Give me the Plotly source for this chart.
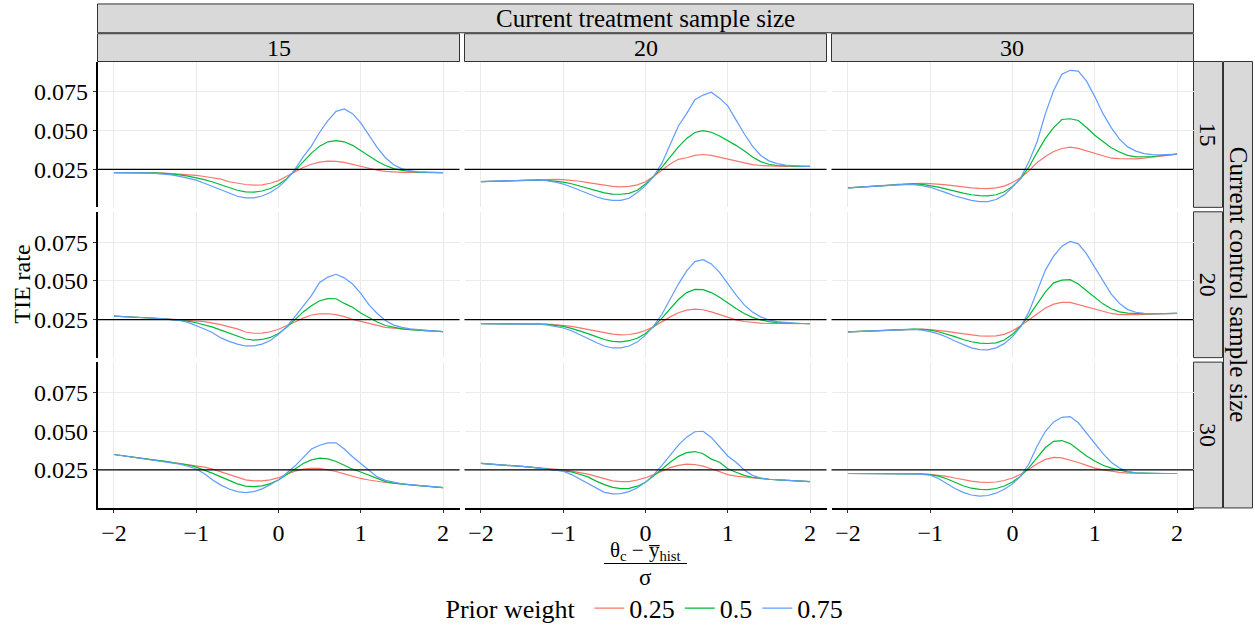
import plotly.graph_objects as go

# ---------------- data ----------------
x_std_diff = [round(-2 + 0.1 * i, 1) for i in range(41)]
treatment_sizes = ["15", "20", "30"]
control_sizes = ["15", "20", "30"]
prior_weights = ["0.25", "0.5", "0.75"]
y_ticks = [0.025, 0.050, 0.075]
y_ticktext = ["0.025", "0.050", "0.075"]
x_ticks = [-2, -1, 0, 1, 2]

# control 15 / treatment 15
c15_t15_w025 = [.0229,.0229,.0229,.0229,.0229,.0228,.0226,.0223,.0220,.0216,.0211,.0204,.0196,.0187,.0170,.0160,.0152,.0148,.0150,.0160,.0177,.0205,.0235,.0262,.0283,.0297,.0303,.0302,.0295,.0282,.0268,.0255,.0244,.0237,.0233,.0231,.0230,.0229,.0229,.0229,.0229]
c15_t15_w050 = [.0229,.0229,.0229,.0229,.0229,.0227,.0224,.0220,.0214,.0206,.0197,.0184,.0168,.0150,.0131,.0115,.0105,.0103,.0110,.0126,.0152,.0190,.0242,.0300,.0355,.0400,.0428,.0436,.0428,.0405,.0372,.0336,.0302,.0275,.0255,.0243,.0236,.0232,.0230,.0229,.0229]
c15_t15_w075 = [.0229,.0229,.0229,.0228,.0227,.0224,.0220,.0214,.0205,.0193,.0180,.0160,.0138,.0115,.0093,.0076,.0066,.0066,.0078,.0100,.0135,.0185,.0250,.0330,.0400,.0490,.0565,.0625,.0640,.0610,.0550,.0470,.0390,.0325,.0280,.0253,.0240,.0234,.0231,.0230,.0229]
# control 15 / treatment 20
c15_t20_w025 = [.0171,.0173,.0175,.0177,.0179,.0181,.0183,.0184,.0185,.0185,.0184,.0180,.0173,.0164,.0155,.0146,.0140,.0137,.0140,.0150,.0170,.0205,.0245,.0285,.0315,.0325,.0340,.0346,.0340,.0328,.0315,.0300,.0288,.0280,.0275,.0272,.0270,.0269,.0269,.0269,.0269]
c15_t20_w050 = [.0171,.0173,.0175,.0177,.0179,.0180,.0181,.0181,.0179,.0175,.0168,.0157,.0143,.0127,.0112,.0098,.0090,.0089,.0095,.0115,.0155,.0205,.0265,.0330,.0395,.0450,.0488,.0500,.0490,.0465,.0437,.0405,.0370,.0330,.0300,.0283,.0275,.0272,.0270,.0269,.0269]
c15_t20_w075 = [.0171,.0173,.0175,.0177,.0179,.0180,.0181,.0180,.0177,.0168,.0155,.0136,.0115,.0092,.0073,.0058,.0049,.0050,.0063,.0100,.0145,.0205,.0290,.0410,.0530,.0610,.0700,.0730,.0748,.0710,.0660,.0570,.0480,.0400,.0340,.0305,.0287,.0278,.0273,.0270,.0269]
# control 15 / treatment 30
c15_t30_w025 = [.0130,.0133,.0137,.0141,.0145,.0149,.0153,.0156,.0158,.0159,.0158,.0155,.0150,.0143,.0136,.0130,.0127,.0126,.0130,.0142,.0165,.0198,.0240,.0295,.0333,.0365,.0385,.0393,.0385,.0370,.0353,.0337,.0322,.0319,.0317,.0318,.0322,.0328,.0335,.0342,.0348]
c15_t30_w050 = [.0130,.0133,.0137,.0141,.0145,.0149,.0152,.0155,.0156,.0153,.0146,.0135,.0122,.0108,.0096,.0086,.0080,.0079,.0086,.0105,.0140,.0190,.0265,.0360,.0450,.0520,.0572,.0577,.0566,.0520,.0470,.0430,.0390,.0362,.0340,.0331,.0330,.0333,.0338,.0343,.0348]
c15_t30_w075 = [.0130,.0133,.0137,.0141,.0145,.0149,.0152,.0153,.0151,.0145,.0134,.0118,.0098,.0078,.0062,.0050,.0042,.0042,.0055,.0085,.0135,.0195,.0300,.0430,.0610,.0760,.0865,.0890,.0885,.0820,.0720,.0610,.0520,.0445,.0395,.0368,.0352,.0345,.0343,.0345,.0348]
# control 20 / treatment 15
c20_t15_w025 = [.0273,.0271,.0268,.0265,.0262,.0259,.0256,.0253,.0250,.0247,.0242,.0237,.0228,.0218,.0203,.0190,.0170,.0162,.0163,.0172,.0188,.0210,.0235,.0260,.0280,.0287,.0288,.0282,.0270,.0252,.0238,.0225,.0210,.0200,.0195,.0190,.0185,.0181,.0178,.0175,.0173]
c20_t15_w050 = [.0273,.0271,.0268,.0265,.0262,.0259,.0255,.0251,.0247,.0240,.0230,.0218,.0202,.0182,.0162,.0140,.0125,.0118,.0122,.0135,.0160,.0200,.0250,.0300,.0340,.0372,.0386,.0385,.0355,.0330,.0293,.0262,.0235,.0212,.0200,.0191,.0186,.0182,.0178,.0175,.0173]
c20_t15_w075 = [.0273,.0271,.0268,.0265,.0262,.0259,.0255,.0250,.0245,.0232,.0212,.0190,.0165,.0132,.0110,.0092,.0080,.0080,.0092,.0115,.0155,.0205,.0270,.0340,.0405,.0490,.0525,.0543,.0520,.0480,.0420,.0345,.0290,.0245,.0215,.0200,.0190,.0185,.0180,.0176,.0173]
# control 20 / treatment 20
c20_t20_w025 = [.0224,.0224,.0224,.0224,.0224,.0224,.0224,.0223,.0221,.0218,.0213,.0206,.0197,.0186,.0175,.0164,.0156,.0152,.0154,.0163,.0180,.0205,.0237,.0268,.0295,.0312,.0318,.0314,.0300,.0282,.0264,.0249,.0238,.0231,.0227,.0225,.0224,.0224,.0224,.0224,.0224]
c20_t20_w050 = [.0224,.0224,.0224,.0224,.0224,.0224,.0223,.0222,.0219,.0214,.0206,.0194,.0178,.0160,.0140,.0122,.0110,.0107,.0114,.0130,.0160,.0205,.0260,.0320,.0380,.0425,.0445,.0444,.0425,.0395,.0358,.0322,.0290,.0265,.0248,.0237,.0231,.0228,.0226,.0225,.0224]
c20_t20_w075 = [.0224,.0224,.0224,.0224,.0224,.0224,.0223,.0221,.0216,.0208,.0196,.0178,.0155,.0128,.0102,.0080,.0067,.0068,.0080,.0105,.0150,.0210,.0285,.0380,.0480,.0565,.0625,.0638,.0610,.0555,.0480,.0410,.0345,.0300,.0268,.0248,.0237,.0231,.0227,.0225,.0224]
# control 20 / treatment 30
c20_t30_w025 = [.0171,.0173,.0176,.0179,.0182,.0185,.0187,.0189,.0190,.0189,.0186,.0181,.0174,.0166,.0158,.0150,.0145,.0143,.0145,.0155,.0178,.0210,.0250,.0290,.0325,.0350,.0362,.0362,.0348,.0332,.0318,.0302,.0290,.0283,.0281,.0282,.0284,.0286,.0288,.0290,.0291]
c20_t30_w050 = [.0171,.0173,.0176,.0179,.0182,.0185,.0187,.0189,.0189,.0187,.0182,.0172,.0158,.0140,.0122,.0107,.0098,.0096,.0100,.0118,.0155,.0210,.0275,.0355,.0430,.0488,.0505,.0508,.0480,.0437,.0395,.0352,.0320,.0300,.0292,.0289,.0288,.0288,.0289,.0290,.0291]
c20_t30_w075 = [.0171,.0173,.0176,.0179,.0182,.0185,.0187,.0188,.0187,.0182,.0173,.0158,.0138,.0112,.0088,.0068,.0056,.0055,.0068,.0095,.0140,.0205,.0300,.0440,.0570,.0660,.0725,.0755,.0740,.0675,.0590,.0500,.0415,.0355,.0315,.0298,.0290,.0288,.0289,.0290,.0291]
# control 30 / treatment 15
c30_t15_w025 = [.0350,.0342,.0335,.0328,.0321,.0314,.0307,.0300,.0292,.0286,.0278,.0268,.0255,.0238,.0218,.0200,.0186,.0180,.0180,.0186,.0200,.0222,.0242,.0255,.0261,.0260,.0250,.0240,.0225,.0208,.0195,.0185,.0176,.0169,.0164,.0159,.0154,.0149,.0145,.0140,.0136]
c30_t15_w050 = [.0350,.0342,.0335,.0328,.0321,.0314,.0307,.0300,.0292,.0282,.0268,.0250,.0228,.0205,.0182,.0160,.0146,.0142,.0147,.0162,.0185,.0220,.0258,.0292,.0315,.0326,.0322,.0305,.0280,.0255,.0237,.0215,.0192,.0175,.0165,.0158,.0154,.0149,.0145,.0140,.0136]
c30_t15_w075 = [.0350,.0342,.0335,.0328,.0321,.0314,.0306,.0298,.0288,.0274,.0256,.0226,.0185,.0152,.0127,.0110,.0104,.0110,.0128,.0155,.0186,.0230,.0275,.0330,.0385,.0410,.0425,.0425,.0385,.0335,.0290,.0245,.0205,.0183,.0170,.0161,.0155,.0150,.0145,.0140,.0136]
# control 30 / treatment 20
c30_t20_w025 = [.0292,.0289,.0286,.0282,.0278,.0273,.0268,.0264,.0260,.0255,.0250,.0243,.0235,.0223,.0208,.0193,.0180,.0174,.0175,.0185,.0200,.0220,.0245,.0265,.0280,.0288,.0285,.0275,.0258,.0238,.0220,.0210,.0203,.0197,.0193,.0190,.0186,.0183,.0180,.0177,.0174]
c30_t20_w050 = [.0292,.0289,.0286,.0282,.0278,.0273,.0268,.0262,.0257,.0252,.0248,.0238,.0222,.0205,.0178,.0155,.0138,.0129,.0131,.0145,.0170,.0210,.0255,.0300,.0338,.0362,.0369,.0355,.0320,.0300,.0258,.0235,.0215,.0203,.0195,.0190,.0186,.0183,.0180,.0177,.0174]
c30_t20_w075 = [.0292,.0289,.0286,.0282,.0278,.0273,.0268,.0262,.0256,.0250,.0242,.0220,.0191,.0160,.0130,.0105,.0095,.0097,.0110,.0135,.0170,.0220,.0280,.0345,.0410,.0462,.0497,.0500,.0460,.0400,.0340,.0300,.0250,.0215,.0198,.0190,.0186,.0183,.0180,.0177,.0174]
# control 30 / treatment 30
c30_t30_w025 = [.0227,.0227,.0227,.0227,.0227,.0227,.0227,.0227,.0226,.0225,.0222,.0217,.0209,.0198,.0187,.0178,.0171,.0169,.0172,.0182,.0198,.0222,.0255,.0290,.0318,.0331,.0328,.0315,.0298,.0280,.0262,.0250,.0240,.0234,.0230,.0228,.0227,.0227,.0227,.0227,.0227]
c30_t30_w050 = [.0227,.0227,.0227,.0227,.0227,.0227,.0227,.0227,.0226,.0224,.0220,.0210,.0193,.0170,.0148,.0132,.0124,.0123,.0130,.0146,.0172,.0210,.0265,.0330,.0395,.0435,.0440,.0420,.0380,.0340,.0308,.0280,.0262,.0248,.0238,.0232,.0229,.0227,.0227,.0227,.0227]
c30_t30_w075 = [.0227,.0227,.0227,.0227,.0227,.0227,.0227,.0227,.0225,.0222,.0216,.0195,.0160,.0130,.0105,.0088,.0081,.0085,.0100,.0125,.0160,.0210,.0290,.0405,.0500,.0560,.0590,.0595,.0555,.0490,.0420,.0355,.0300,.0262,.0240,.0232,.0229,.0227,.0227,.0227,.0227]

panel_series = {
    ("15", "15"): [c15_t15_w025, c15_t15_w050, c15_t15_w075],
    ("15", "20"): [c15_t20_w025, c15_t20_w050, c15_t20_w075],
    ("15", "30"): [c15_t30_w025, c15_t30_w050, c15_t30_w075],
    ("20", "15"): [c20_t15_w025, c20_t15_w050, c20_t15_w075],
    ("20", "20"): [c20_t20_w025, c20_t20_w050, c20_t20_w075],
    ("20", "30"): [c20_t30_w025, c20_t30_w050, c20_t30_w075],
    ("30", "15"): [c30_t15_w025, c30_t15_w050, c30_t15_w075],
    ("30", "20"): [c30_t20_w025, c30_t20_w050, c30_t20_w075],
    ("30", "30"): [c30_t30_w025, c30_t30_w050, c30_t30_w075],
}

# ---------------- style ----------------
W, H = 1255, 632
FONT = "Liberation Serif"
colors = ["#F8766D", "#00BA38", "#619CFF"]
col_px = [(97.5, 459.5), (464.5, 826.5), (831.5, 1193.5)]
row_px = [(62, 209), (213.5, 360.5), (365, 512)]
strip_fill = "#D9D9D9"
strip_line = "#333333"


def fx(p):
    return p / W


def fy(p):
    return 1 - p / H


def label(text, px, py, size, angle=0):
    return dict(text=text, xref="paper", yref="paper", x=fx(px), y=fy(py),
                xanchor="center", yanchor="middle", textangle=angle,
                showarrow=False, font=dict(family=FONT, size=size, color="black"))


def strip_rect(x0, x1, y0, y1):
    return dict(type="rect", xref="paper", yref="paper",
                x0=fx(x0), x1=fx(x1), y0=fy(y1), y1=fy(y0),
                fillcolor=strip_fill, line=dict(color=strip_line, width=1), layer="below")


fig = go.Figure()
layout = dict(
    width=W, height=H,
    margin=dict(l=0, r=0, t=0, b=0),
    paper_bgcolor="white", plot_bgcolor="white",
    font=dict(family=FONT, size=24, color="black"),
    showlegend=True,
)
shapes = []
annotations = []

for r, ctrl in enumerate(control_sizes):
    for c, trt in enumerate(treatment_sizes):
        k = r * 3 + c + 1
        xa = "x" if k == 1 else f"x{k}"
        ya = "y" if k == 1 else f"y{k}"
        xkey = "xaxis" if k == 1 else f"xaxis{k}"
        ykey = "yaxis" if k == 1 else f"yaxis{k}"
        bottom = r == 2
        left = c == 0
        layout[xkey] = dict(
            domain=[fx(col_px[c][0]), fx(col_px[c][1])], anchor=ya,
            range=[-2.2, 2.2], tickvals=x_ticks, showticklabels=bottom,
            showgrid=True, gridcolor="#EBEBEB", gridwidth=1, zeroline=False,
            showline=bottom, linecolor="black", linewidth=1.5,
            ticks="outside" if bottom else "", ticklen=3, tickcolor="#333333",
            tickfont=dict(family=FONT, size=24, color="black"),
        )
        layout[ykey] = dict(
            domain=[fy(row_px[r][1]), fy(row_px[r][0])], anchor=xa,
            range=[0.00045, 0.09468], tickvals=y_ticks, ticktext=y_ticktext,
            showticklabels=left,
            showgrid=True, gridcolor="#EBEBEB", gridwidth=1, zeroline=False,
            showline=left, linecolor="black", linewidth=1.5,
            ticks="outside" if left else "", ticklen=3, tickcolor="#333333",
            tickfont=dict(family=FONT, size=24, color="black"),
        )
        for s, (w, col) in enumerate(zip(prior_weights, colors)):
            fig.add_trace(go.Scatter(
                x=x_std_diff, y=panel_series[(ctrl, trt)][s], mode="lines",
                line=dict(color=col, width=1.2), name=w, legendgroup=w,
                showlegend=(k == 1), xaxis=xa, yaxis=ya,
            ))
        shapes.append(dict(type="line", xref=f"{xa} domain", yref=ya,
                           x0=0, x1=1, y0=0.025, y1=0.025,
                           line=dict(color="black", width=1.2)))

# column strips
shapes.append(strip_rect(col_px[0][0], col_px[2][1], 4, 33))
annotations.append(label("Current treatment sample size",
                         (col_px[0][0] + col_px[2][1]) / 2, 19, 25))
for c, trt in enumerate(treatment_sizes):
    shapes.append(strip_rect(col_px[c][0], col_px[c][1], 34, 62))
    annotations.append(label(trt, (col_px[c][0] + col_px[c][1]) / 2, 48.5, 24))
# row strips
for r, ctrl in enumerate(control_sizes):
    shapes.append(strip_rect(1193.5, 1222.5, row_px[r][0], row_px[r][1]))
    annotations.append(label(ctrl, 1208, (row_px[r][0] + row_px[r][1]) / 2, 24, 90))
shapes.append(strip_rect(1223.5, 1252.5, row_px[0][0], row_px[2][1]))
annotations.append(label("Current control sample size", 1238,
                         (row_px[0][0] + row_px[2][1]) / 2, 25, 90))

# axis titles
annotations.append(label("TIE rate", 22, (row_px[0][0] + row_px[2][1]) / 2, 24, -90))
annotations.append(label("θ<sub>c</sub> − y\u0305<sub>hist</sub>", 645, 555, 21))
shapes.append(dict(type="line", xref="paper", yref="paper",
                   x0=fx(604), x1=fx(687), y0=fy(568), y1=fy(568),
                   line=dict(color="black", width=1)))
annotations.append(label("σ", 645, 582, 23))

layout["shapes"] = shapes
layout["annotations"] = annotations
layout["legend"] = dict(
    orientation="h", x=fx(646), xanchor="center", y=fy(613), yanchor="middle",
    title=dict(text="Prior weight ", side="left", font=dict(family=FONT, size=26)),
    font=dict(family=FONT, size=26), itemwidth=30, bgcolor="rgba(0,0,0,0)",
    tracegroupgap=0,
)
fig.update_layout(**layout)
fig.write_html("out.html", config={"displayModeBar": False},
               post_script="document.body.style.margin='0px';document.body.style.overflow='hidden';")
